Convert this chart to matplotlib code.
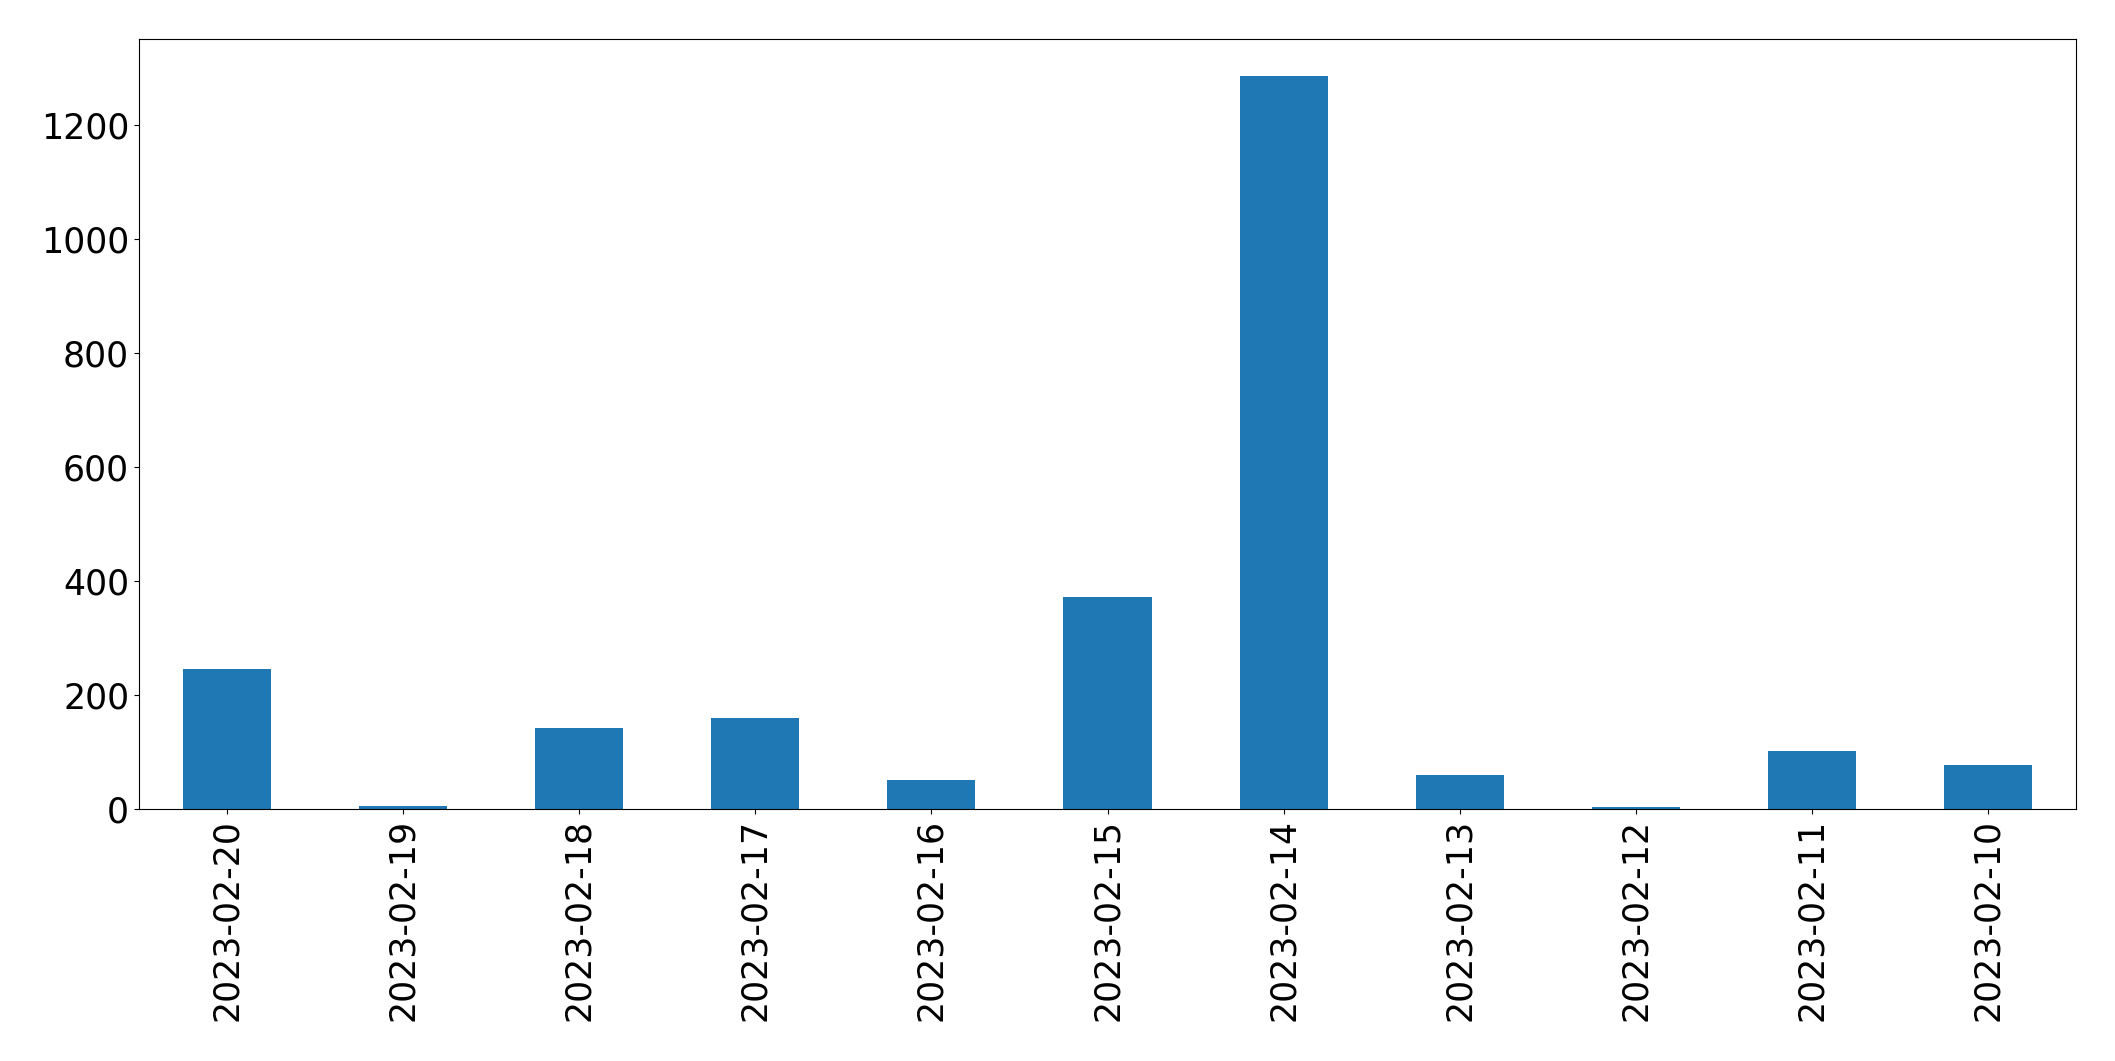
import pandas as pd
import matplotlib.pyplot as plt

dates = ['2023-02-20', '2023-02-19', '2023-02-18', '2023-02-17', '2023-02-16', '2023-02-15',
         '2023-02-14', '2023-02-13', '2023-02-12', '2023-02-11', '2023-02-10']
counts = [246, 5, 142, 160, 51, 371, 1286, 60, 3, 102, 77]

s = pd.Series(counts, index=dates)

fig, ax = plt.subplots(figsize=(21.15, 10.61), dpi=100)
s.plot(kind='bar', ax=ax, color='#1f77b4')
ax.tick_params(axis='both', labelsize=25)
plt.subplots_adjust(left=0.0657, right=0.9816, top=0.9632, bottom=0.2375)
plt.savefig('out.png')
